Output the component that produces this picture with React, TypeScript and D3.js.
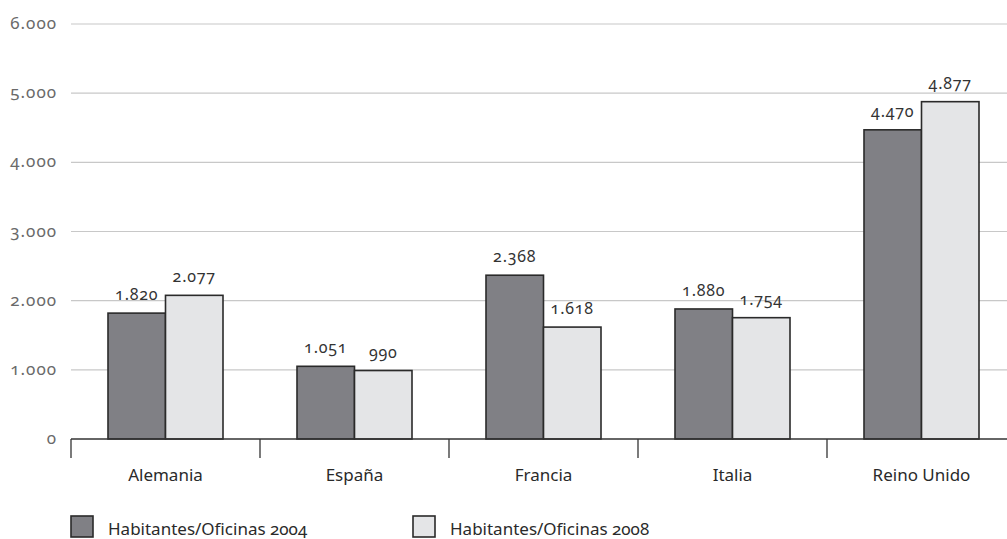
import React from "react";
import * as d3 from "d3";

const categories = ["Alemania", "España", "Francia", "Italia", "Reino Unido"];
const series2004 = [1820, 1051, 2368, 1880, 4470];
const series2008 = [2077, 990, 1618, 1754, 4877];
const seriesNames = ["Habitantes/Oficinas 2004", "Habitantes/Oficinas 2008"];
const yTicks = [0, 1000, 2000, 3000, 4000, 5000, 6000];

const W = 1007;
const H = 539;
const FONT = "'Noto Sans', 'Open Sans', sans-serif";
const fills = ["#808085", "#e4e5e7"];

const fmt = (v: number) => d3.format(",")(v).replace(/,/g, ".");

export default function App() {
  const x = d3.scaleBand<string>().domain(categories).range([71, 1016]);
  const y = d3.scaleLinear().domain([0, 6000]).range([439, 24]);
  const inner = d3
    .scaleBand<number>()
    .domain([0, 1])
    .range([37, x.bandwidth() - 37])
    .paddingInner(0);

  const data = [series2004, series2008];

  return (
    <svg
      width={W}
      height={H}
      style={{ position: "absolute", left: 0, top: 0, fontFamily: FONT }}
    >
      <rect width={W} height={H} fill="#fff" />
      {yTicks.map((t) => (
        <g key={t}>
          {t > 0 && (
            <line x1={71} x2={W} y1={y(t)} y2={y(t)} stroke="#c8c8c8" strokeWidth={1.2} />
          )}
          <text
            x={57}
            y={y(t)}
            dy="0.3em"
            textAnchor="end"
            fontSize={17}
            fill="#6a6a6a"
            letterSpacing={1}
            style={{ fontVariantNumeric: "oldstyle-nums tabular-nums" }}
          >
            {fmt(t)}
          </text>
        </g>
      ))}
      {categories.map((c, i) =>
        data.map((s, k) => {
          const bx = (x(c) as number) + (inner(k) as number);
          const v = s[i];
          return (
            <g key={c + k}>
              <rect
                x={bx}
                y={y(v)}
                width={inner.bandwidth()}
                height={y(0) - y(v)}
                fill={fills[k]}
                stroke="#2a2a2a"
                strokeWidth={1.6}
              />
              <text
                x={bx + inner.bandwidth() / 2}
                y={y(v) - 13}
                textAnchor="middle"
                fontSize={16}
                fill="#333"
                letterSpacing={0.8}
                style={{ fontVariantNumeric: "oldstyle-nums" }}
              >
                {fmt(v)}
              </text>
            </g>
          );
        })
      )}
      <line x1={71} x2={W} y1={y(0)} y2={y(0)} stroke="#333" strokeWidth={1.3} />
      {categories.map((c) => (
        <line
          key={"t" + c}
          x1={x(c) as number}
          x2={x(c) as number}
          y1={y(0)}
          y2={y(0) + 19}
          stroke="#333"
          strokeWidth={1.3}
        />
      ))}
      {categories.map((c) => (
        <text
          key={"l" + c}
          x={(x(c) as number) + x.bandwidth() / 2}
          y={481}
          textAnchor="middle"
          fontSize={17}
          fill="#2a2a2a"
        >
          {c}
        </text>
      ))}
      {seriesNames.map((n, k) => {
        const lx = k === 0 ? 71 : 413;
        return (
          <g key={n}>
            <rect x={lx} y={516} width={22} height={21} fill={fills[k]} stroke="#2a2a2a" strokeWidth={1.6} />
            <text
              x={lx + 37}
              y={535}
              fontSize={17}
              fill="#2a2a2a"
              style={{ fontVariantNumeric: "oldstyle-nums" }}
            >
              {n}
            </text>
          </g>
        );
      })}
    </svg>
  );
}
